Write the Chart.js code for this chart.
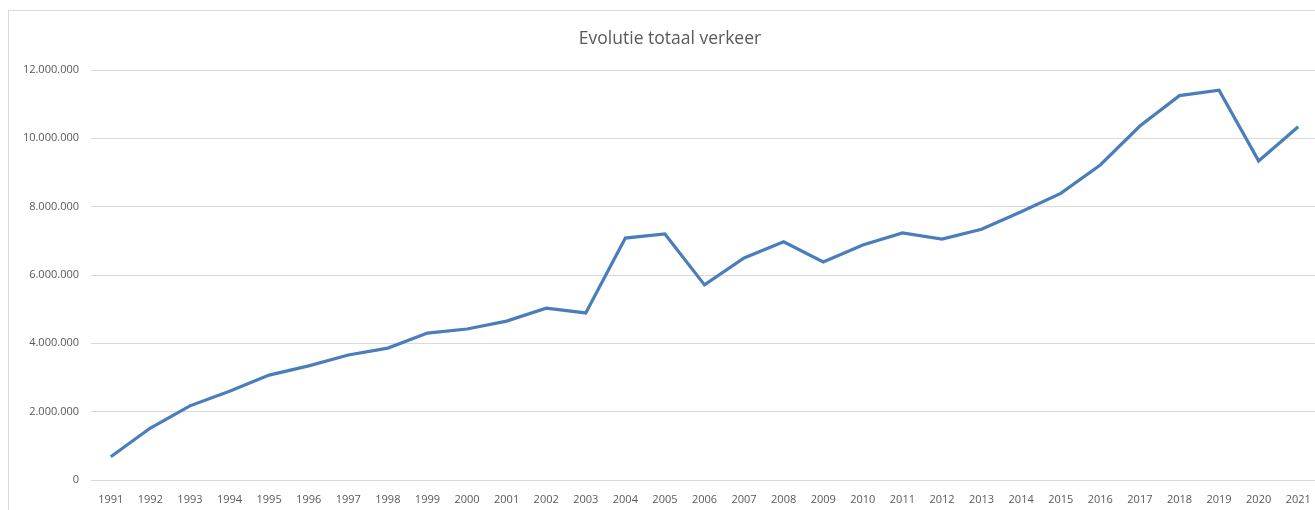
<!DOCTYPE html>
<html>
<head>
<meta charset="utf-8">
<script src="https://cdn.jsdelivr.net/npm/chart.js@4"></script>
<style>
  html, body { margin: 0; padding: 0; background: #fff; overflow: hidden; }
  .frame { position: absolute; left: 8px; top: 10px; width: 1330px; height: 520px; border: 1px solid #d9d9d9; }
  .wrap { position: absolute; left: 0; top: 0; width: 1318px; height: 510px; }
</style>
</head>
<body>
<div class="frame"></div>
<div class="wrap"><canvas id="chart"></canvas></div>
<script>
const years = ['1991','1992','1993','1994','1995','1996','1997','1998','1999','2000',
  '2001','2002','2003','2004','2005','2006','2007','2008','2009','2010',
  '2011','2012','2013','2014','2015','2016','2017','2018','2019','2020','2021'];

const totaalVerkeer = [680000, 1520000, 2170000, 2600000, 3070000, 3340000, 3660000, 3860000, 4300000, 4420000,
  4650000, 5030000, 4890000, 7080000, 7200000, 5710000, 6500000, 6970000, 6380000, 6880000,
  7230000, 7050000, 7340000, 7850000, 8390000, 9220000, 10360000, 11250000, 11410000, 9340000, 10340000];

const yMax = 12000000;
const yStep = 2000000;

const fmt = v => String(v).replace(/\B(?=(\d{3})+(?!\d))/g, '.');

const ctx = document.getElementById('chart').getContext('2d');
new Chart(ctx, {
  type: 'line',
  data: {
    labels: years,
    datasets: [{
      label: 'Totaal verkeer',
      data: totaalVerkeer,
      borderColor: '#4a7ebb',
      borderWidth: 3.2,
      pointRadius: 0,
      tension: 0,
      fill: false
    }]
  },
  options: {
    responsive: true,
    maintainAspectRatio: false,
    animation: false,
    layout: { padding: { left: 22, right: 0, top: 29, bottom: 0 } },
    plugins: {
      legend: { display: false },
      tooltip: { enabled: false },
      title: {
        display: true,
        text: 'Evolutie totaal verkeer',
        color: '#595959',
        font: { family: 'Open Sans', size: 17.5, weight: 'normal' },
        padding: { top: 0, bottom: 20 }
      }
    },
    scales: {
      x: {
        offset: true,
        grid: { display: false },
        border: { display: false },
        ticks: {
          color: '#595959',
          font: { family: 'Open Sans', size: 11 },
          padding: 5,
          maxRotation: 0,
          autoSkip: false
        },
        afterFit: s => { s.height = 30; }
      },
      y: {
        min: 0,
        max: yMax,
        grid: { color: '#d9d9d9', drawTicks: false, lineWidth: 1 },
        border: { display: false },
        ticks: {
          stepSize: yStep,
          color: '#595959',
          font: { family: 'Open Sans', size: 11 },
          padding: 12,
          callback: v => fmt(v)
        },
        afterFit: s => { s.width = 69; }
      }
    }
  }
});
</script>
</body>
</html>
